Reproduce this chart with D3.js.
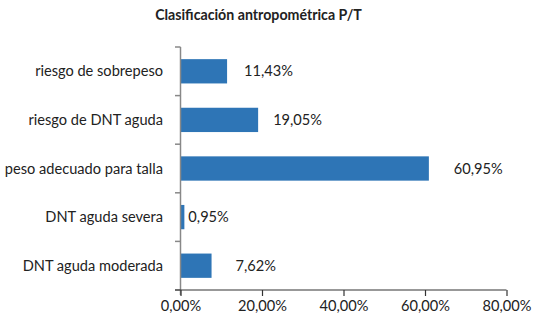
<!DOCTYPE html>
<html><head><meta charset="utf-8">
<script src="https://cdn.jsdelivr.net/npm/d3@7"></script>
<style>body{margin:0;background:#fff}svg{display:block}text{font-family:Lato,"Open Sans",sans-serif}</style>
</head><body><svg id="c" width="538" height="328"></svg>
<script>
const categories = ["riesgo de sobrepeso","riesgo de DNT aguda","peso adecuado para talla","DNT aguda severa","DNT aguda moderada"];
const values = [11.43, 19.05, 60.95, 0.95, 7.62];
const valueLabels = ["11,43%","19,05%","60,95%","0,95%","7,62%"];
const xTicks = [0,20,40,60,80];
const xTickLabels = ["0,00%","20,00%","40,00%","60,00%","80,00%"];
const title = "Clasificación antropométrica P/T";

const labelGap = [17,15,25,4,24];
const FS = 14.6;
const svg = d3.select("#c");
const x = d3.scaleLinear().domain([0,80]).range([180.5,506.5]);
const y = d3.scaleBand().domain(categories).range([47,290]).paddingInner(0.5).paddingOuter(0.25);

svg.append("text").attr("x",258.5).attr("y",20).attr("text-anchor","middle")
  .attr("font-weight","bold").attr("font-size",14.2).attr("fill","#222").text(title);

svg.selectAll("rect.bar").data(values).join("rect").attr("class","bar")
  .attr("x",x(0)).attr("y",(d,i)=>y(categories[i]))
  .attr("width",d=>x(d)-x(0)).attr("height",y.bandwidth()).attr("fill","#2E75B6");

svg.selectAll("text.val").data(values).join("text").attr("class","val")
  .attr("x",(d,i)=>x(d)+labelGap[i]).attr("y",(d,i)=>y(categories[i])+y.bandwidth()/2)
  .attr("dy","0.35em").attr("font-size",FS).attr("fill","#222").text((d,i)=>valueLabels[i]);

// y axis
const step = y.step();
const yBounds = d3.range(categories.length+1).map(i=>47+i*step);
svg.append("line").attr("x1",x(0)).attr("x2",x(0)).attr("y1",47).attr("y2",295).attr("stroke","#888").attr("stroke-width",1.5);
svg.selectAll("line.yt").data(yBounds).join("line").attr("class","yt")
  .attr("x1",175).attr("x2",x(0)).attr("y1",d=>d).attr("y2",d=>d).attr("stroke","#888").attr("stroke-width",1.5);
svg.selectAll("text.cat").data(categories).join("text").attr("class","cat")
  .attr("x",163).attr("y",d=>y(d)+y.bandwidth()/2).attr("dy","0.35em").attr("text-anchor","end")
  .attr("font-size",FS).attr("fill","#222").text(d=>d);

// x axis
const xa = svg.append("g").attr("transform","translate(0,290)")
  .call(d3.axisBottom(x).tickValues(xTicks).tickSize(6).tickPadding(5).tickFormat((d,i)=>xTickLabels[i]));
xa.select(".domain").attr("stroke","#333").attr("stroke-width",1.2).attr("d",`M175,0H${x(80)}`);
xa.selectAll(".tick line").attr("stroke","#333").attr("stroke-width",1.2);
xa.selectAll(".tick text").attr("font-size",FS).attr("fill","#222").attr("font-family","Lato,sans-serif");
</script></body></html>
